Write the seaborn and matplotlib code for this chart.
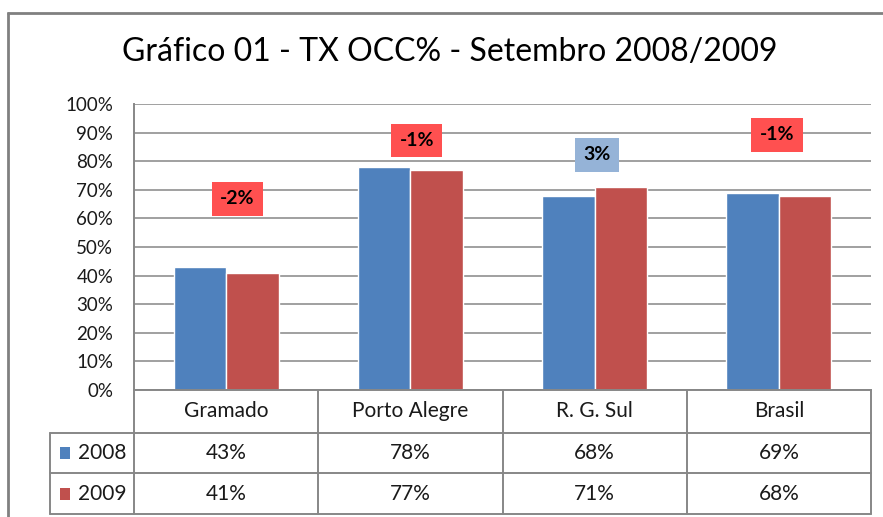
import matplotlib
matplotlib.use("Agg")
import matplotlib.pyplot as plt
import matplotlib.transforms as mtransforms
from matplotlib.patches import Rectangle
import seaborn as sns
import pandas as pd

# ---- data ----
title = "Gráfico 01 - TX OCC% - Setembro 2008/2009"
categories = ["Gramado", "Porto Alegre", "R. G. Sul", "Brasil"]
years = ["2008", "2009"]
occ_2008 = [43, 78, 68, 69]
occ_2009 = [41, 77, 71, 68]
ytick_vals = [0, 10, 20, 30, 40, 50, 60, 70, 80, 90, 100]

# ---- layout / style ----
W, H = 883, 517
blue, red = "#4F81BD", "#C0504D"
box_red, box_blue = "#FF5050", "#95B3D7"
grid_col = "#868686"
line_col = "#878787"
label_y = [66.8, 87.2, 82.2, 89.2]          # vertical centre of change labels
label_dx = [0.06, 0.035, 0.013, -0.01]      # horizontal nudge (category units)

sns.set_theme(style="white")
plt.rcParams["font.family"] = ["Lato", "DejaVu Sans"]

df = pd.DataFrame({
    "Local": categories * 2,
    "Ano": [years[0]] * 4 + [years[1]] * 4,
    "Taxa": occ_2008 + occ_2009,
})

fig = plt.figure(figsize=(W / 100, H / 100), dpi=100)
fig.patch.set_facecolor("white")

ax = fig.add_axes([134 / W, 1 - 390 / H, (871 - 134) / W, (390 - 104) / H])
sns.barplot(data=df, x="Local", y="Taxa", hue="Ano", palette=[blue, red],
            width=0.57, saturation=1, legend=False, ax=ax, errorbar=None)
ax.set_ylim(0, 100)
ax.set_xlim(-0.5, len(categories) - 0.5)
ax.set_yticks(ytick_vals)
ax.set_yticklabels([f"{v}%" for v in ytick_vals], fontsize=13.5, color="#1a1a1a")
ax.set_xticks([])
ax.set_xlabel("")
ax.set_ylabel("")
ax.tick_params(axis="y", length=0, pad=15)
ax.yaxis.grid(True, color=grid_col, lw=1.1)
ax.set_axisbelow(True)
for s in ["top", "right"]:
    ax.spines[s].set_visible(False)
for s in ["left", "bottom"]:
    ax.spines[s].set_color(line_col)
    ax.spines[s].set_linewidth(1.4)

# change labels
for i, (a, b) in enumerate(zip(occ_2008, occ_2009)):
    d = b - a
    ax.text(i + label_dx[i], label_y[i], f"{d}%", ha="center", va="center",
            fontsize=14, fontweight="bold", color="black",
            bbox=dict(facecolor=box_red if d < 0 else box_blue,
                      edgecolor="none", pad=6))

# overlay for frame and data table
ov = fig.add_axes([0, 0, 1, 1])
ov.set_xlim(0, W)
ov.set_ylim(H, 0)
ov.axis("off")

frame_col = "#808080"
ov.plot([7, W], [12.5, 12.5], color=frame_col, lw=2, solid_capstyle="butt")
ov.plot([7.5, 7.5], [12, H], color=frame_col, lw=2, solid_capstyle="butt")

fig.text(450 / W, 1 - 52 / H, title, ha="center", va="center",
         fontsize=23, color="black")

# table
tr = mtransforms.blended_transform_factory(ax.transData, ov.transData)
for y in [433, 473, 514]:
    ov.plot([50, 871], [y, y], color=line_col, lw=1.4)
ov.plot([50, 50], [433, 514], color=line_col, lw=1.4)
for xb in [-0.5, 0.5, 1.5, 2.5, 3.5]:
    ax.plot([xb, xb], [390, 514], color=line_col, lw=1.4, transform=tr,
            clip_on=False)

for i, c in enumerate(categories):
    ax.text(i, 411, c, transform=tr, ha="center", va="center", fontsize=15,
            color="#1a1a1a")
    ax.text(i, 453, f"{occ_2008[i]}%", transform=tr, ha="center", va="center",
            fontsize=15, color="#1a1a1a")
    ax.text(i, 494, f"{occ_2009[i]}%", transform=tr, ha="center", va="center",
            fontsize=15, color="#1a1a1a")

for yr, col, yc in [(years[0], blue, 453), (years[1], red, 494)]:
    ov.add_patch(Rectangle((60, yc - 6), 10, 12, facecolor=col, edgecolor="none"))
    ov.text(78, yc, yr, ha="left", va="center", fontsize=15, color="#1a1a1a")

fig.savefig("out.png", dpi=100, facecolor="white")
